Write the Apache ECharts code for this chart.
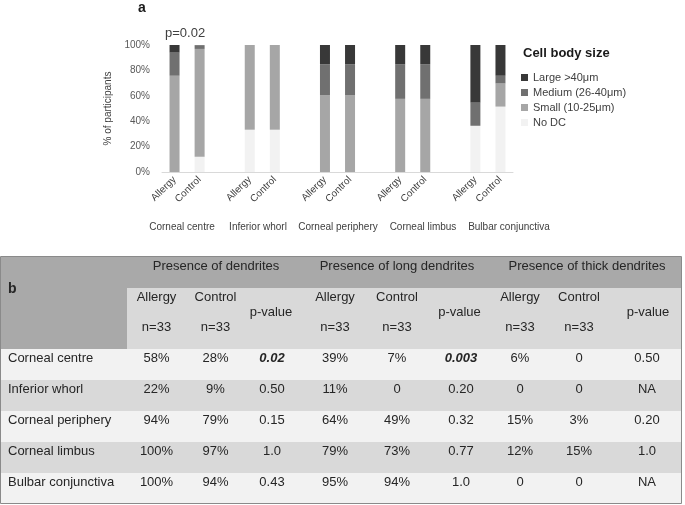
<!DOCTYPE html>
<html>
<head>
<meta charset="utf-8">
<script src="https://cdn.jsdelivr.net/npm/echarts@6/dist/echarts.min.js"></script>
<style>
  html, body { margin: 0; padding: 0; background: #fff; }
  #main { width: 685px; height: 505px; }
</style>
</head>
<body>
<div id="main"></div>
<script>
// sites along the eye surface (chart a)
var groups = ['Corneal centre', 'Inferior whorl', 'Corneal periphery', 'Corneal limbus', 'Bulbar conjunctiva'];
var subjects = ['Allergy', 'Control'];
// % of participants, one value per bar: Allergy, Control for each site
var noDC   = [0, 12.1,   33.3, 33.3,   0, 0,       0, 0,       36.4, 51.5];
var small  = [75.8, 84.8, 66.7, 66.7,  60.6, 60.6, 57.6, 57.6,  0, 18.2];
var medium = [18.2, 3.0,  0, 0,        24.2, 24.2, 27.3, 27.3,  18.2, 6.1];
var large  = [6.1, 0,     0, 0,        15.2, 15.2, 15.2, 15.2,  45.5, 24.2];
var yTicks = [0, 20, 40, 60, 80, 100];
var sizeNames = ['Large >40μm', 'Medium (26-40μm)', 'Small (10-25μm)', 'No DC'];

// table b
var measures = ['Presence of dendrites', 'Presence of long dendrites', 'Presence of thick dendrites'];
var rowNames = ['Corneal centre', 'Inferior whorl', 'Corneal periphery', 'Corneal limbus', 'Bulbar conjunctiva'];
var dendrites = [['58%', '28%', '0.02'], ['22%', '9%', '0.50'], ['94%', '79%', '0.15'], ['100%', '97%', '1.0'], ['100%', '94%', '0.43']];
var longDendrites = [['39%', '7%', '0.003'], ['11%', '0', '0.20'], ['64%', '49%', '0.32'], ['79%', '73%', '0.77'], ['95%', '94%', '1.0']];
var thickDendrites = [['6%', '0', '0.50'], ['0', '0', 'NA'], ['15%', '3%', '0.20'], ['12%', '15%', '1.0'], ['0', '0', 'NA']];
var significant = ['0.02', '0.003'];

var FONT = '"Liberation Sans", Arial, sans-serif';

// pad bars into 14 slots (blank slot between sites)
var cats = [];
function pad(arr) {
	var out = [];
	for (var g = 0; g < groups.length; g++) {
		out.push(arr[g * 2], arr[g * 2 + 1]);
		if (g < groups.length - 1) out.push('-');
	}
	return out;
}
for (var g = 0; g < groups.length; g++) {
	cats.push(subjects[0], subjects[1]);
	if (g < groups.length - 1) cats.push('');
}

var colors = { 'Large >40μm': '#383838', 'Medium (26-40μm)': '#707070', 'Small (10-25μm)': '#a6a6a6', 'No DC': '#f2f2f2' };
var seriesData = { 'No DC': noDC, 'Small (10-25μm)': small, 'Medium (26-40μm)': medium, 'Large >40μm': large };
var stackOrder = ['No DC', 'Small (10-25μm)', 'Medium (26-40μm)', 'Large >40μm'];

var series = stackOrder.map(function(name) {
	return {
		name: name, type: 'bar', stack: 'size', barWidth: 10,
		itemStyle: { color: colors[name] },
		data: pad(seriesData[name])
	};
});

// text around the chart
var graphic = [
	{ type: 'text', x: 142, y: 8, style: { text: 'a', font: 'bold 14px ' + FONT, fill: '#1a1a1a', textAlign: 'center', textVerticalAlign: 'middle' } },
	{ type: 'text', x: 165, y: 33, style: { text: 'p=0.02', font: '13px ' + FONT, fill: '#404040', textVerticalAlign: 'middle' } },
	{ type: 'text', x: 523, y: 53, style: { text: 'Cell body size', font: 'bold 13px ' + FONT, fill: '#1a1a1a', textVerticalAlign: 'middle' } }
];
var groupX = [182, 258, 338, 423, 509];
groups.forEach(function(name, i) {
	graphic.push({ type: 'text', x: groupX[i], y: 227,
		style: { text: name, font: '10px ' + FONT, fill: '#404040', textAlign: 'center', textVerticalAlign: 'middle' } });
});

// table layout
var T = { left: 1, right: 681, top: 257, headBottom: 288, subBottom: 349, rowH: 31, labelX: 8 };
var colX = [156.5, 215.5, 272, 335, 397, 461, 520, 579, 647];
var measureX = [216, 397, 587];
var pvalX = [271, 459.5, 648];
var rowFill = ['#f2f2f2', '#d9d9d9'];

function txt(x, y, s, opt) {
	opt = opt || {};
	return { type: 'text', x: x, y: y, z: 10,
		style: { text: s, font: (opt.font || '13px ') + FONT, fill: '#262626',
			textAlign: opt.align || 'center', textVerticalAlign: 'middle' } };
}

graphic.push({ type: 'rect', shape: { x: T.left, y: T.top, width: T.right - T.left, height: T.headBottom - T.top }, style: { fill: '#a9a9a9' } });
graphic.push({ type: 'rect', shape: { x: T.left, y: T.top, width: 127 - T.left, height: T.subBottom - T.top }, style: { fill: '#a9a9a9' } });
graphic.push({ type: 'rect', shape: { x: 127, y: T.headBottom, width: T.right - 127, height: T.subBottom - T.headBottom }, style: { fill: '#d9d9d9' } });
graphic.push(txt(T.labelX, 289, 'b', { font: 'bold 14px ', align: 'left' }));

for (var m = 0; m < 3; m++) {
	graphic.push(txt(measureX[m], 266, measures[m]));
	graphic.push(txt(colX[m * 3], 297, 'Allergy'));
	graphic.push(txt(colX[m * 3 + 1], 297, 'Control'));
	graphic.push(txt(colX[m * 3], 327, 'n=33'));
	graphic.push(txt(colX[m * 3 + 1], 327, 'n=33'));
	graphic.push(txt(pvalX[m], 312, 'p-value'));
}

for (var r = 0; r < rowNames.length; r++) {
	var rowTop = T.subBottom + r * T.rowH;
	graphic.push({ type: 'rect', shape: { x: T.left, y: rowTop, width: T.right - T.left, height: T.rowH }, style: { fill: rowFill[r % 2] } });
	graphic.push(txt(T.labelX, rowTop + 9, rowNames[r], { align: 'left' }));
	var vals = dendrites[r].concat(longDendrites[r], thickDendrites[r]);
	for (var c = 0; c < vals.length; c++) {
		var sig = (c % 3 == 2) && significant.indexOf(vals[c]) >= 0;
		graphic.push(txt(colX[c], rowTop + 9, vals[c], { font: sig ? 'italic bold 13px ' : '13px ' }));
	}
}
graphic.push({ type: 'rect', z: 20, shape: { x: T.left - 0.5, y: T.top - 0.5, width: T.right - T.left + 1, height: 505 - T.top - 1 },
	style: { fill: 'none', stroke: '#8a8a8a', lineWidth: 1 } });

var myChart = echarts.init(document.getElementById('main'));
var option = {
	animation: false,
	textStyle: { fontFamily: FONT },
	grid: { left: 162, right: 172, top: 45, bottom: 333, containLabel: false },
	legend: {
		orient: 'vertical', left: 521, top: 72, padding: 0,
		itemWidth: 7, itemHeight: 7, itemGap: 4, icon: 'rect',
		selectedMode: false,
		textStyle: { fontSize: 11, color: '#404040', fontFamily: FONT },
		data: sizeNames
	},
	xAxis: {
		type: 'category', data: cats,
		axisLine: { lineStyle: { color: '#d9d9d9' } },
		axisTick: { show: false },
		axisLabel: { interval: 0, rotate: 45, fontSize: 10, color: '#404040', margin: 6, fontFamily: FONT }
	},
	yAxis: {
		type: 'value', min: yTicks[0], max: yTicks[yTicks.length - 1], interval: 20,
		name: '% of participants', nameLocation: 'middle', nameGap: 39, nameRotate: 90,
		nameTextStyle: { fontSize: 10, color: '#404040', fontFamily: FONT },
		axisLine: { show: false }, axisTick: { show: false }, splitLine: { show: false },
		axisLabel: { formatter: '{value}%', fontSize: 10, color: '#595959', margin: 12, fontFamily: FONT }
	},
	series: series,
	graphic: graphic
};
myChart.setOption(option);
</script>
</body>
</html>
